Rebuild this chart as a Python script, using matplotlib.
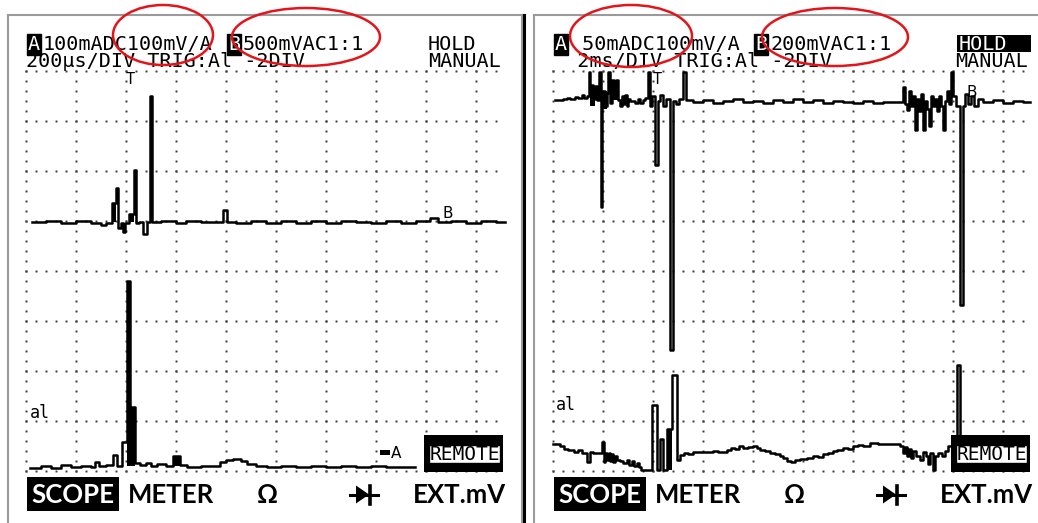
import numpy as np
import matplotlib.pyplot as plt
from matplotlib.patches import Ellipse, Rectangle, Polygon
from matplotlib.lines import Line2D

# all trace values are in scope divisions (x: time div, y: vertical div from bottom line)

# ---- left screen (200us/DIV) ----
left_head1 = ['100mADC100mV/A', '500mVAC1:1']
left_head2 = '200μs/DIV TRIG:Al -2DIV'

left_b_x = [0.12, 0.4, 0.7, 1.0, 1.3, 1.5, 1.6, 1.72, 1.8, 1.84, 1.9, 1.94, 1.98, 2.06, 2.16,
            2.2, 2.26, 2.34, 2.42, 2.48, 2.52, 2.7, 3.0, 3.2, 3.5, 3.94, 4.02, 4.2, 4.5, 4.8,
            5.1, 5.4, 5.7, 6.0, 6.3, 6.6, 6.9, 7.2, 7.5, 7.8, 8.08, 8.24, 8.5, 8.8, 9.1, 9.4, 9.58]
left_b_y = [4.98, 5.0, 4.96, 5.0, 4.96, 4.92, 4.96, 5.36, 5.66, 4.86, 4.96, 4.78, 4.96, 5.14, 6.02,
            4.96, 4.98, 4.74, 4.98, 7.5, 4.98, 5.0, 4.96, 5.0, 4.98, 5.22, 4.98, 4.96, 5.0, 4.96,
            5.0, 4.96, 5.0, 4.96, 5.0, 4.98, 4.96, 5.0, 4.96, 5.0, 5.06, 4.98, 5.0, 4.96, 5.0, 4.98, 4.98]

left_a_x = [0.08, 0.3, 0.5, 0.7, 0.9, 1.1, 1.3, 1.38, 1.46, 1.6, 1.74, 1.82, 1.92, 2.02, 2.07,
            2.1, 2.18, 2.28, 2.4, 2.5, 2.62, 2.8, 2.94, 3.08, 3.22, 3.5, 3.88, 4.0, 4.14, 4.3,
            4.42, 4.6, 4.82, 5.1, 5.4, 5.7, 6.0, 6.3, 6.6, 6.9, 7.2, 7.5, 7.78]
left_a_y = [0.06, 0.1, 0.06, 0.12, 0.08, 0.1, 0.08, 0.18, 0.1, 0.12, 0.32, 0.1, 0.58, 3.8, 1.28,
            1.28, 0.16, 0.12, 0.16, 0.1, 0.14, 0.1, 0.3, 0.12, 0.08, 0.1, 0.18, 0.22, 0.24, 0.2,
            0.14, 0.1, 0.08, 0.1, 0.08, 0.1, 0.08, 0.1, 0.08, 0.1, 0.08, 0.08, 0.08]

# filled segments: start, width, bottom, top
left_fill = [(1.72, 0.08, 4.98, 5.36), (2.06, 0.1, 4.98, 5.14), (2.02, 0.05, 0.1, 3.8),
             (2.07, 0.11, 0.1, 1.28), (2.94, 0.14, 0.1, 0.3)]

# ---- right screen (2ms/DIV) ----
right_head1 = [' 50mADC100mV/A', '200mVAC1:1']
right_head2 = '  2ms/DIV TRIG:Al -2DIV'

right_b_x = [0.04, 0.2, 0.27, 0.34, 0.44, 0.5, 0.57, 0.62, 0.67, 0.71, 0.74, 0.77, 0.8, 0.84,
             0.88, 0.92, 0.95, 0.98, 1.0, 1.04, 1.07, 1.1, 1.14, 1.18, 1.22, 1.26, 1.3, 1.34,
             1.38, 1.41, 1.44, 1.47, 1.5, 1.54, 1.64, 1.7, 1.74, 1.8, 1.84, 1.9, 1.94, 1.98,
             2.04, 2.1, 2.14, 2.2, 2.26, 2.34, 2.4, 2.46, 2.52, 2.6, 2.66, 2.8, 3.0, 3.2, 3.4,
             3.6, 3.8, 4.0, 4.2, 4.4, 4.6, 4.8, 5.0, 5.2, 5.4, 5.6, 5.8, 6.0, 6.2, 6.4, 6.6,
             7.0, 7.04, 7.08, 7.12, 7.16, 7.2, 7.24, 7.28, 7.32, 7.36, 7.4, 7.44, 7.48, 7.52,
             7.56, 7.6, 7.64, 7.68, 7.72, 7.76, 7.8, 7.84, 7.88, 7.92, 7.96, 8.0, 8.06, 8.14,
             8.2, 8.24, 8.3, 8.36, 8.42, 8.5, 8.6, 8.8, 9.0, 9.2, 9.4, 9.54]
right_b_y = [7.42, 7.44, 7.47, 7.44, 7.49, 7.46, 7.52, 7.47, 7.5, 7.98, 7.6, 7.72, 7.44, 7.7,
             7.42, 7.98, 5.28, 7.4, 7.6, 7.3, 7.56, 7.98, 7.36, 7.82, 7.6, 7.82, 7.42, 7.3,
             7.5, 7.35, 7.52, 7.3, 7.44, 7.4, 7.36, 7.44, 7.36, 7.42, 7.46, 7.98, 7.3, 7.5,
             6.12, 7.4, 7.52, 7.3, 7.44, 2.42, 7.4, 7.34, 7.44, 7.98, 7.42, 7.38, 7.42, 7.36, 7.4,
             7.44, 7.38, 7.4, 7.36, 7.42, 7.38, 7.44, 7.38, 7.42, 7.36, 7.4, 7.38, 7.36, 7.4, 7.36, 7.38,
             7.69, 7.35, 7.22, 7.6, 7.3, 7.5, 6.82, 7.45, 7.2, 7.55, 6.82, 7.4, 7.25, 6.9,
             7.5, 7.3, 7.45, 7.2, 7.5, 7.3, 6.82, 7.4, 7.6, 7.35, 7.98, 7.5, 7.3, 3.32,
             7.3, 7.55, 7.35, 7.5, 7.3, 7.45, 7.38, 7.42, 7.36, 7.4, 7.38, 7.38]

right_a_x = [0.0, 0.14, 0.21, 0.3, 0.41, 0.5, 0.58, 0.67, 0.74, 0.8, 0.97, 1.01, 1.04, 1.08,
             1.11, 1.14, 1.17, 1.2, 1.24, 1.28, 1.34, 1.4, 1.47, 1.52, 1.58, 1.61, 1.67, 1.72,
             1.76, 1.98, 2.07, 2.14, 2.2, 2.28, 2.38, 2.48, 2.54, 2.62, 2.7, 2.8, 3.0, 3.2, 3.3,
             3.48, 3.56, 3.64, 3.72, 3.8, 3.9, 4.0, 4.08, 4.14, 4.24, 4.34, 4.44, 4.54, 4.6,
             4.68, 4.76, 4.84, 4.94, 5.08, 5.2, 5.3, 5.4, 5.5, 5.6, 5.68, 5.8, 5.9, 6.0, 6.1,
             6.2, 6.34, 6.5, 6.7, 6.94, 7.0, 7.04, 7.08, 7.12, 7.16, 7.2, 7.26, 7.34, 7.4, 7.46,
             7.5, 7.54, 7.6, 7.64, 7.7, 7.78, 7.84, 7.9, 8.08, 8.14, 8.2]
right_a_y = [0.55, 0.5, 0.45, 0.42, 0.39, 0.42, 0.36, 0.19, 0.39, 0.36, 0.59, 0.19, 0.36, 0.22,
             0.36, 0.2, 0.34, 0.18, 0.3, 0.22, 0.2, 0.16, 0.22, 0.12, 0.2, 0.1, 0.16, 0.08,
             0.02, 1.32, 0.02, 0.64, 0.02, 0.84, 1.92, 0.22, 0.32, 0.36, 0.34, 0.38, 0.38, 0.4, 0.38,
             0.42, 0.46, 0.44, 0.5, 0.46, 0.48, 0.5, 0.46, 0.42, 0.4, 0.36, 0.34, 0.3, 0.26,
             0.2, 0.18, 0.22, 0.24, 0.26, 0.3, 0.28, 0.34, 0.36, 0.4, 0.42, 0.46, 0.44, 0.5, 0.52,
             0.5, 0.56, 0.55, 0.54, 0.5, 0.36, 0.48, 0.3, 0.44, 0.26, 0.4, 0.3, 0.22, 0.38, 0.3,
             0.14, 0.36, 0.02, 0.3, 0.36, 0.3, 0.4, 0.5, 2.12, 0.4, 0.4]

right_fill = [(0.74, 0.1, 7.3, 7.7), (0.98, 0.1, 7.25, 7.6), (1.2, 0.1, 7.42, 7.82),
              (2.28, 0.1, 0.02, 0.84)]

menu = ['SCOPE', 'METER', 'Ω', 'EXT.mV']

fig = plt.figure(figsize=(10.38, 5.23), dpi=100)
W, H = 1038, 523
MONO = 'DejaVu Sans Mono'
MENU_FONT = ['Lato', 'DejaVu Sans']
MENU_SIZE = 18.5


def screen(left_px, right_px, show_right):
    ax = fig.add_axes([left_px / W, 0, (right_px - left_px) / W, 508 / H])
    x0 = left_px - 26 if left_px < 500 else left_px - 553
    ax.set_xlim(x0 / 50, x0 / 50 + (right_px - left_px) / 50)
    ax.set_ylim(-1.04, 9.12)
    ax.set_xticks([])
    ax.set_yticks([])
    for s in ['left', 'top', 'right']:
        ax.spines[s].set_color('#9a9a9a')
        ax.spines[s].set_linewidth(1.5)
    ax.spines['bottom'].set_visible(False)
    ax.spines['right'].set_visible(show_right)
    gy = np.arange(0, 8.01, 0.2)
    gx = np.arange(0, 9.41, 0.2)
    for x in range(10):
        ax.plot(np.full_like(gy, x), gy, 's', ms=1.4, color='#3a3a3a', mec='none')
    for y in range(9):
        ax.plot(gx, np.full_like(gx, y), 's', ms=1.4, color='#3a3a3a', mec='none')
    return ax


def decorate(ax, head1, head2, hold_inv):
    # header line 1
    for ch, col in [('A', 0), ('B', 16)]:
        ax.text(0.04 + 0.25 * col, 8.42, ch, family=MONO, fontsize=14.5, color='white',
                va='baseline', bbox=dict(boxstyle='square,pad=0.05', fc='black', ec='black'))
    ax.text(0.33, 8.42, head1[0], family=MONO, fontsize=14.5, va='baseline')
    ax.text(0.04 + 0.25 * 17 + 0.05, 8.42, head1[1], family=MONO, fontsize=14.5, va='baseline')
    if hold_inv:
        ax.add_patch(Rectangle((8.08, 8.38), 1.48, 0.34, fc='black', ec='none'))
        ax.text(8.12, 8.42, 'HOLD', family=MONO, fontsize=14.5, va='baseline', color='white')
    else:
        ax.text(0.04 + 0.25 * 32, 8.42, 'HOLD', family=MONO, fontsize=14.5, va='baseline')
    ax.text(0.0, 8.08, head2, family=MONO, fontsize=14.5, va='baseline')
    ax.text(0.04 + 0.25 * 32, 8.08, 'MANUAL', family=MONO, fontsize=14.5, va='baseline')
    ax.text(2.08, 7.74, 'T', family=MONO, fontsize=11, ha='center', va='baseline')

    # REMOTE box
    ax.add_patch(Rectangle((7.96, -0.02), 1.58, 0.74, fc='black', ec='none', zorder=4))
    ax.add_patch(Rectangle((8.06, 0.16), 1.42, 0.36, fc='white', ec='black', lw=1, zorder=5))
    ax.text(8.77, 0.34, 'REMOTE', family=MONO, fontsize=14, ha='center', va='center', zorder=6)

    # soft key menu
    ax.add_patch(Rectangle((0.02, -0.8), 1.84, 0.68, fc='black', ec='none', clip_on=False))
    ax.text(0.94, -0.64, menu[0], family=MENU_FONT, weight='bold', fontsize=MENU_SIZE,
            color='white', ha='center', va='baseline', clip_on=False)
    ax.text(2.04, -0.64, menu[1], family=MENU_FONT, weight='bold', fontsize=MENU_SIZE, va='baseline')
    ax.text(4.62, -0.64, menu[2], family=MENU_FONT, weight='bold', fontsize=MENU_SIZE, va='baseline')
    ax.text(7.74, -0.64, menu[3], family=MENU_FONT, weight='bold', fontsize=MENU_SIZE, va='baseline')
    ax.plot([6.48, 7.04], [-0.47, -0.47], color='black', lw=2.2)
    ax.add_patch(Polygon([(6.6, -0.29), (6.6, -0.65), (6.86, -0.47)], closed=True, fc='black'))
    ax.plot([6.88, 6.88], [-0.29, -0.65], color='black', lw=2.6)


def traces(ax, bx, by, axx, ayy, fills):
    ax.plot(bx, by, drawstyle='steps-post', color='black', lw=1.8, zorder=3)
    ax.plot(axx, ayy, drawstyle='steps-post', color='black', lw=1.8, zorder=3)
    for x0, w, b, t in fills:
        ax.bar(x0, t - b, w, b, align='edge', color='black', zorder=3)


axL = screen(8, 522, True)
traces(axL, left_b_x, left_b_y, left_a_x, left_a_y, left_fill)
decorate(axL, left_head1, left_head2, False)
axL.text(8.34, 5.06, 'B', fontsize=11, va='baseline')
axL.text(0.08, 1.06, 'al', family=MONO, fontsize=12, va='baseline')
axL.add_patch(Rectangle((7.08, 0.32), 0.2, 0.1, fc='black'))
axL.text(7.3, 0.26, 'A', fontsize=11, va='baseline')
axL.add_patch(Ellipse((2.74, 8.72), 2.0, 1.2, fill=False, ec='#e3151b', lw=1.8, clip_on=False, zorder=10))
axL.add_patch(Ellipse((5.6, 8.68), 2.96, 1.16, fill=False, ec='#e3151b', lw=1.8, clip_on=False, zorder=10))

axR = screen(534, 1038, False)
traces(axR, right_b_x, right_b_y, right_a_x, right_a_y, right_fill)
decorate(axR, right_head1, right_head2, True)
axR.text(8.28, 7.48, 'B', fontsize=11, va='baseline')
axR.text(0.06, 1.22, 'al', family=MONO, fontsize=12, va='baseline')
axR.add_patch(Ellipse((1.56, 8.7), 2.44, 1.24, fill=False, ec='#e3151b', lw=1.8, clip_on=False, zorder=10))
axR.add_patch(Ellipse((5.64, 8.68), 2.92, 1.16, fill=False, ec='#e3151b', lw=1.8, clip_on=False, zorder=10))

fig.add_artist(Line2D([524 / W, 524 / W], [0, 1 - 15 / H], color='black', lw=2.2))

fig.savefig('out.png', dpi=100, facecolor='white')
